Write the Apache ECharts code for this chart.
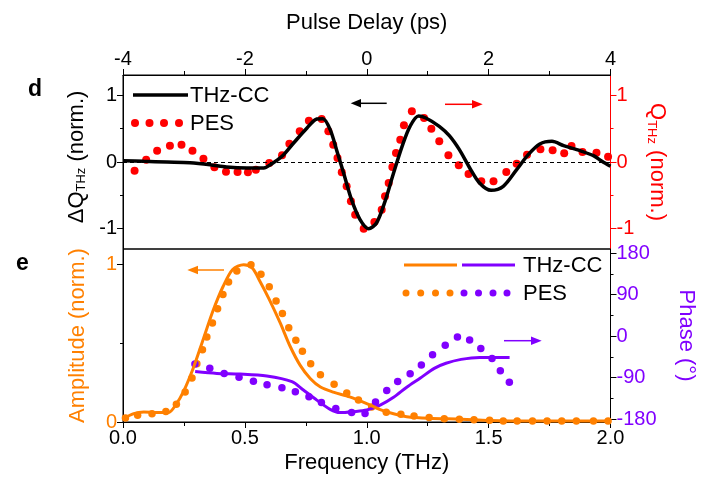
<!DOCTYPE html>
<html>
<head>
<meta charset="utf-8">
<script src="https://cdn.jsdelivr.net/npm/echarts@6/dist/echarts.min.js"></script>
<style>
html,body{margin:0;padding:0;background:#fff;}
#c{width:706px;height:487px;}
</style>
</head>
<body>
<div id="c"></div>
<script>
// ---------- Panel d (time domain) ----------
const delayTicks = [-4, -2, 0, 2, 4];
const thzccDelay = [-4.0,-3.66,-3.28,-2.9,-2.57,-2.30,-1.97,-1.69,-1.58,-1.39,-1.20,-0.98,-0.82,-0.72,-0.60,-0.48,-0.38,-0.25,-0.11,0.03,0.16,0.30,0.44,0.58,0.71,0.85,0.97,1.19,1.355,1.52,1.69,1.85,2.04,2.24,2.46,2.65,2.84,3.04,3.23,3.50,3.72,3.86,4.0];
const thzccQ = [0.02,0.01,0.0,-0.01,-0.04,-0.075,-0.09,-0.09,-0.04,0.085,0.285,0.51,0.645,0.65,0.485,0.135,-0.165,-0.565,-0.865,-1.0,-0.915,-0.59,-0.165,0.235,0.535,0.69,0.66,0.535,0.395,0.185,-0.09,-0.315,-0.425,-0.365,-0.115,0.11,0.27,0.31,0.245,0.17,0.095,0.01,-0.065];
const pesDelay = [-3.81,-3.62,-3.44,-3.23,-3.04,-2.86,-2.68,-2.50,-2.31,-2.12,-1.95,-1.82,-1.60,-1.39,-1.27,-1.10,-0.95,-0.74,-0.63,-0.55,-0.48,-0.41,-0.33,-0.26,-0.19,-0.05,0.125,0.245,0.30,0.36,0.42,0.48,0.55,0.61,0.74,0.94,1.06,1.19,1.34,1.51,1.67,1.88,2.08,2.29,2.46,2.63,2.85,3.05,3.24,3.36,3.54,3.77,3.96];
const pesQ = [-0.13,0.035,0.17,0.245,0.26,0.17,0.05,-0.08,-0.145,-0.15,-0.155,-0.115,-0.015,0.10,0.275,0.46,0.62,0.645,0.46,0.26,0.06,-0.155,-0.365,-0.59,-0.79,-1.0,-0.9,-0.715,-0.515,-0.315,-0.075,0.135,0.335,0.55,0.76,0.66,0.50,0.31,0.10,-0.05,-0.18,-0.29,-0.29,-0.15,-0.025,0.11,0.19,0.175,0.13,0.24,0.15,0.14,0.08];
const qMajorTicks = [-1, 0, 1];
const qMinorTicks = [-0.5, 0.5];

// ---------- Panel e (frequency domain) ----------
const freqTicks = [0, 0.5, 1.0, 1.5, 2.0];
const ampLineFreq = [0,0.044,0.085,0.14,0.187,0.215,0.25,0.29,0.33,0.37,0.41,0.45,0.495,0.53,0.56,0.60,0.645,0.686,0.727,0.768,0.81,0.863,0.93,1.0,1.055,1.11,1.164,1.256,1.39,1.50,1.67,2.0];
const ampLine = [0.02,0.053,0.064,0.06,0.06,0.106,0.20,0.35,0.53,0.71,0.86,0.97,1.0,0.98,0.90,0.78,0.63,0.48,0.36,0.277,0.223,0.19,0.16,0.117,0.079,0.052,0.034,0.024,0.018,0.01,0.006,0.006];
const ampDotFreq = [0.01,0.06,0.119,0.176,0.219,0.255,0.283,0.303,0.326,0.344,0.367,0.388,0.41,0.433,0.467,0.525,0.566,0.60,0.628,0.654,0.68,0.709,0.736,0.77,0.81,0.866,0.918,0.966,1.02,1.08,1.14,1.194,1.256,1.318,1.38,1.44,1.504,1.56,1.617,1.68,1.74,1.80,1.86,1.93,1.99];
const ampDot = [0.026,0.043,0.053,0.066,0.113,0.19,0.28,0.37,0.46,0.54,0.63,0.72,0.81,0.89,0.96,1.0,0.94,0.86,0.77,0.69,0.60,0.52,0.45,0.37,0.30,0.24,0.185,0.14,0.096,0.062,0.049,0.038,0.028,0.021,0.017,0.015,0.011,0.006,0.006,0.006,0.006,0.006,0.006,0.006,0.006];
const phaseLineFreq = [0.296,0.385,0.48,0.59,0.693,0.74,0.795,0.85,0.89,0.945,1.0,1.055,1.11,1.164,1.22,1.277,1.325,1.387,1.463,1.511,1.586];
const phaseLine = [-77,-81,-82.4,-86.7,-99,-117,-139,-159,-166,-164,-160.5,-150,-133,-111,-91,-70,-59,-50.6,-46.3,-46.3,-46.3];
const phaseDotFreq = [0.295,0.356,0.415,0.476,0.535,0.591,0.652,0.707,0.763,0.814,0.873,0.938,0.993,1.036,1.082,1.127,1.178,1.224,1.27,1.322,1.372,1.422,1.468,1.514,1.548,1.585];
const phaseDot = [-60.7,-70,-81,-89.3,-97.9,-105.7,-112,-121,-131.8,-144,-157,-165.7,-168,-143,-118,-98.6,-82,-63,-40.7,-20,-2,-8.6,-27,-48.6,-75,-100];
const ampMajorTicks = [0, 1];
const ampMinorTicks = [0.5];
const phaseMajorTicks = [-180, -90, 0, 90, 180];
const phaseMinorTicks = [-135, -45, 45, 135];

const FONT = 'Liberation Sans, Arial, sans-serif';
const RED = '#ff0000', ORANGE = '#ff8000', PURPLE = '#8000ff';
const NAME_SIZE = 22;
const zip = (a, b) => a.map((v, i) => [v, b[i]]);

function yAx(o) {
  return Object.assign({
    type: 'value', splitLine: {show: false},
    axisLine: {show: true, onZero: false, lineStyle: {color: '#000', width: 1}},
    axisTick: {show: true, length: 6, inside: false, lineStyle: {color: '#000', width: 1}},
    axisLabel: {fontFamily: FONT, fontSize: 20, color: '#000', margin: 6}
  }, o);
}
function minorAx(o, ticks, color) {
  return Object.assign({
    type: 'value', splitLine: {show: false},
    axisLine: {show: false, onZero: false},
    axisTick: {show: true, length: 3, inside: false, customValues: ticks, lineStyle: {color: color, width: 1}},
    axisLabel: {show: false}
  }, o);
}

const chart = echarts.init(document.getElementById('c'), null, {renderer: 'canvas'});
const option = {
  animation: false,
  backgroundColor: '#fff',
  grid: [
    {left: 123, right: 95.5, top: 75, height: 174, show: true, borderColor: '#000', borderWidth: 1, backgroundColor: 'transparent'},
    {left: 123, right: 95.5, top: 249, height: 173, show: true, borderColor: '#000', borderWidth: 1, backgroundColor: 'transparent'}
  ],
  xAxis: [
    {type: 'value', gridIndex: 0, position: 'top', min: -4, max: 4, interval: 2,
     splitLine: {show: false},
     axisLine: {onZero: false, lineStyle: {color: '#000'}},
     axisTick: {length: 6, lineStyle: {color: '#000'}},
     minorTick: {show: true, splitNumber: 2, length: 4, lineStyle: {color: '#000'}},
     axisLabel: {fontFamily: FONT, fontSize: 20, color: '#000', margin: 6},
     name: 'Pulse Delay (ps)', nameLocation: 'middle', nameGap: 41,
     nameTextStyle: {fontFamily: FONT, fontSize: NAME_SIZE, color: '#000'}},
    {type: 'value', gridIndex: 1, position: 'bottom', min: 0, max: 2, interval: 0.5,
     splitLine: {show: false},
     axisLine: {onZero: false, lineStyle: {color: '#000'}},
     axisTick: {length: 6, lineStyle: {color: '#000'}},
     minorTick: {show: true, splitNumber: 2, length: 4, lineStyle: {color: '#000'}},
     axisLabel: {fontFamily: FONT, fontSize: 20, color: '#000', margin: 6, formatter: v => v.toFixed(1)},
     name: 'Frequency (THz)', nameLocation: 'middle', nameGap: 30,
     nameTextStyle: {fontFamily: FONT, fontSize: NAME_SIZE, color: '#000'}}
  ],
  yAxis: [
    yAx({gridIndex: 0, position: 'left', min: -1.305, max: 1.305,
      axisTick: {show: true, length: 6, customValues: qMajorTicks, lineStyle: {color: '#000'}},
      axisLabel: {fontFamily: FONT, fontSize: 20, color: '#000', margin: 6, customValues: qMajorTicks},
      name: '{n|ΔQ}{s|THz}{n| (norm.)}', nameLocation: 'middle', nameGap: 34, nameRotate: 90,
      nameTextStyle: {padding: [0, 0, 0, 10], rich: {n: {fontFamily: FONT, fontSize: NAME_SIZE, color: '#000', lineHeight: 23}, s: {fontFamily: FONT, fontSize: 13, color: '#000', lineHeight: 13, verticalAlign: 'bottom'}}}}),
    minorAx({gridIndex: 0, position: 'left', min: -1.305, max: 1.305}, qMinorTicks, '#000'),
    yAx({gridIndex: 0, position: 'right', min: -1.305, max: 1.305,
      axisLine: {show: true, onZero: false, lineStyle: {color: RED, width: 1}},
      axisTick: {show: true, length: 6, customValues: qMajorTicks, lineStyle: {color: RED}},
      axisLabel: {fontFamily: FONT, fontSize: 20, color: RED, margin: 6, customValues: qMajorTicks},
      name: '{n|Q}{s|THz}{n| (norm.)}', nameLocation: 'middle', nameGap: 35, nameRotate: -90,
      nameTextStyle: {rich: {n: {fontFamily: FONT, fontSize: NAME_SIZE, color: RED, lineHeight: 23}, s: {fontFamily: FONT, fontSize: 13, color: RED, lineHeight: 13, verticalAlign: 'bottom'}}}}),
    minorAx({gridIndex: 0, position: 'right', min: -1.305, max: 1.305}, qMinorTicks, RED),
    yAx({gridIndex: 1, position: 'left', min: 0, max: 1.1,
      axisTick: {show: true, length: 6, customValues: ampMajorTicks, lineStyle: {color: '#000'}},
      axisLabel: {fontFamily: FONT, fontSize: 20, color: ORANGE, margin: 6, customValues: ampMajorTicks},
      name: 'Amplitude (norm.)', nameLocation: 'middle', nameGap: 34, nameRotate: 90,
      nameTextStyle: {fontFamily: FONT, fontSize: NAME_SIZE, color: ORANGE}}),
    minorAx({gridIndex: 1, position: 'left', min: 0, max: 1.1}, ampMinorTicks, '#000'),
    yAx({gridIndex: 1, position: 'right', min: -186.5, max: 189,
      axisTick: {show: true, length: 6, customValues: phaseMajorTicks, lineStyle: {color: '#000'}},
      axisLabel: {fontFamily: FONT, fontSize: 20, color: PURPLE, margin: 6, customValues: phaseMajorTicks},
      name: 'Phase (°)', nameLocation: 'middle', nameGap: 65, nameRotate: -90,
      nameTextStyle: {fontFamily: FONT, fontSize: NAME_SIZE, color: PURPLE}}),
    minorAx({gridIndex: 1, position: 'right', min: -186.5, max: 189}, phaseMinorTicks, '#000')
  ],
  series: [
    {type: 'scatter', name: 'PES', xAxisIndex: 0, yAxisIndex: 2, data: zip(pesDelay, pesQ),
     symbol: 'circle', symbolSize: 8, itemStyle: {color: RED, opacity: 1}, z: 2},
    {type: 'line', name: 'THz-CC', xAxisIndex: 0, yAxisIndex: 0, data: zip(thzccDelay, thzccQ),
     showSymbol: false, smooth: 0.3, lineStyle: {color: '#000', width: 3.5}, z: 3,
     markLine: {silent: true, symbol: 'none', label: {show: false},
       lineStyle: {color: '#000', width: 1, type: [4, 3]}, data: [{yAxis: 0}]}},
    {type: 'scatter', name: 'PES amp', xAxisIndex: 1, yAxisIndex: 4, data: zip(ampDotFreq, ampDot),
     symbol: 'circle', symbolSize: 7.5, itemStyle: {color: ORANGE, opacity: 1}, z: 2},
    {type: 'scatter', name: 'PES phase', xAxisIndex: 1, yAxisIndex: 6, data: zip(phaseDotFreq, phaseDot),
     symbol: 'circle', symbolSize: 7.5, itemStyle: {color: PURPLE, opacity: 1}, z: 2},
    {type: 'line', name: 'THz-CC phase', xAxisIndex: 1, yAxisIndex: 6, data: zip(phaseLineFreq, phaseLine),
     showSymbol: false, smooth: 0.3, lineStyle: {color: PURPLE, width: 3}, z: 3},
    {type: 'line', name: 'THz-CC amp', xAxisIndex: 1, yAxisIndex: 4, data: zip(ampLineFreq, ampLine),
     showSymbol: false, smooth: 0.3, lineStyle: {color: ORANGE, width: 3}, z: 3}
  ],
  graphic: [
    {type: 'text', left: 28, top: 78, style: {text: 'd', font: 'bold 23px ' + FONT, fill: '#000'}},
    {type: 'text', left: 16, top: 252, style: {text: 'e', font: 'bold 23px ' + FONT, fill: '#000'}},
    // legend d
    {type: 'line', shape: {x1: 133, y1: 95, x2: 188, y2: 95}, style: {stroke: '#000', lineWidth: 3.5}},
    {type: 'text', x: 190, y: 96, style: {text: 'THz-CC', font: NAME_SIZE + 'px ' + FONT, fill: '#000', textVerticalAlign: 'middle'}},
    {type: 'circle', shape: {cx: 135, cy: 123, r: 4}, style: {fill: RED}},
    {type: 'circle', shape: {cx: 149.5, cy: 123, r: 4}, style: {fill: RED}},
    {type: 'circle', shape: {cx: 164, cy: 123, r: 4}, style: {fill: RED}},
    {type: 'circle', shape: {cx: 179, cy: 123, r: 4}, style: {fill: RED}},
    {type: 'text', x: 190, y: 124, style: {text: 'PES', font: NAME_SIZE + 'px ' + FONT, fill: '#000', textVerticalAlign: 'middle'}},
    // arrows d
    {type: 'line', shape: {x1: 386.7, y1: 103.3, x2: 358, y2: 103.3}, style: {stroke: '#000', lineWidth: 1.5}},
    {type: 'polygon', shape: {points: [[350.7, 103.3], [361, 99], [361, 107.6]]}, style: {fill: '#000'}},
    {type: 'line', shape: {x1: 445, y1: 104.3, x2: 474, y2: 104.3}, style: {stroke: RED, lineWidth: 1.5}},
    {type: 'polygon', shape: {points: [[482.7, 104.3], [472, 100], [472, 108.6]]}, style: {fill: RED}},
    // legend e
    {type: 'line', shape: {x1: 404, y1: 265, x2: 457, y2: 265}, style: {stroke: ORANGE, lineWidth: 3}},
    {type: 'line', shape: {x1: 462, y1: 265, x2: 515, y2: 265}, style: {stroke: PURPLE, lineWidth: 3}},
    {type: 'text', x: 523, y: 266, style: {text: 'THz-CC', font: NAME_SIZE + 'px ' + FONT, fill: '#000', textVerticalAlign: 'middle'}},
    {type: 'circle', shape: {cx: 406, cy: 293, r: 3.5}, style: {fill: ORANGE}},
    {type: 'circle', shape: {cx: 420.7, cy: 293, r: 3.5}, style: {fill: ORANGE}},
    {type: 'circle', shape: {cx: 435.5, cy: 293, r: 3.5}, style: {fill: ORANGE}},
    {type: 'circle', shape: {cx: 450, cy: 293, r: 3.5}, style: {fill: ORANGE}},
    {type: 'circle', shape: {cx: 464, cy: 293, r: 3.5}, style: {fill: PURPLE}},
    {type: 'circle', shape: {cx: 478.5, cy: 293, r: 3.5}, style: {fill: PURPLE}},
    {type: 'circle', shape: {cx: 493, cy: 293, r: 3.5}, style: {fill: PURPLE}},
    {type: 'circle', shape: {cx: 507, cy: 293, r: 3.5}, style: {fill: PURPLE}},
    {type: 'text', x: 523, y: 294, style: {text: 'PES', font: NAME_SIZE + 'px ' + FONT, fill: '#000', textVerticalAlign: 'middle'}},
    // arrows e
    {type: 'line', shape: {x1: 224, y1: 270, x2: 195, y2: 270}, style: {stroke: ORANGE, lineWidth: 1.5}},
    {type: 'polygon', shape: {points: [[187.3, 270], [198, 265.7], [198, 274.3]]}, style: {fill: ORANGE}},
    {type: 'line', shape: {x1: 504, y1: 340.7, x2: 532, y2: 340.7}, style: {stroke: PURPLE, lineWidth: 1.5}},
    {type: 'polygon', shape: {points: [[541.7, 340.7], [531, 336.4], [531, 345]]}, style: {fill: PURPLE}}
  ]
};
chart.setOption(option);
</script>
</body>
</html>
